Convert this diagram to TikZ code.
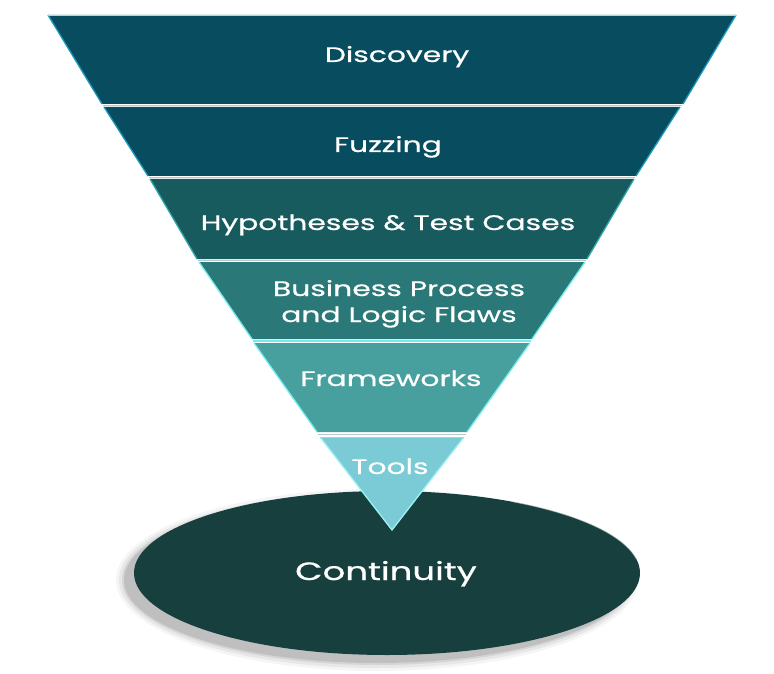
\documentclass[tikz,border=0pt]{standalone}
\usepackage{fontspec}
\usetikzlibrary{shapes.geometric}
\setmainfont[FakeStretch=1.42,FakeBold=0.6]{Poppins}
\definecolor{cA}{HTML}{084D5F}
\definecolor{cC}{HTML}{185B5F}
\definecolor{cD}{HTML}{2A7877}
\definecolor{cE}{HTML}{48A09E}
\definecolor{cF}{HTML}{7ACBD5}
\definecolor{cEll}{HTML}{163F3E}
\definecolor{edgeBlue}{HTML}{1B9AC0}
\definecolor{edgeTeal}{HTML}{2FA6A8}
\definecolor{edgeCyan}{HTML}{72ECEC}
\definecolor{gapLine}{HTML}{B9C6C9}
\begin{document}
\begin{tikzpicture}[x=1pt,y=-1pt,
  label/.style={text=white,font=\fontsize{21}{24.5}\selectfont,anchor=base,inner sep=0pt},
  biglabel/.style={text=white,font=\fontsize{25}{30}\selectfont,anchor=base,inner sep=0pt},
  sep/.style={draw=gapLine,line width=1.3pt}]
\useasboundingbox (0,0) rectangle (774,674);
% ellipse shadow
\foreach \r/\o in {10/0.04,7/0.06,4/0.08,2/0.10}{
  \fill[black,opacity=\o] (377,580) ellipse ({251+\r} and {81+\r});
}
\node[ellipse,fill=cEll,draw=none,minimum width=506pt,minimum height=164pt,inner sep=0pt] (ell) at (387,573) {};
\draw[white!70!cEll,line width=0.8pt,opacity=0.6] (387,573) ++(-10:253 and 82) arc (-10:-60:253 and 82);
% bands
\fill[cA] (48,15) -- (736,15) -- (683,104) -- (102,104) -- cycle;
\draw[edgeBlue,line width=1.3pt] (48,15) -- (102,104);
\draw[edgeBlue,line width=1.3pt] (736,15) -- (683,104);
\draw[gray!40,line width=0.8pt] (48,15) -- (736,15);
\fill[cA] (104,107) -- (680,107) -- (636,176) -- (148,176) -- cycle;
\draw[edgeBlue,line width=1.3pt] (104,107) -- (148,176);
\draw[edgeBlue,line width=1.3pt] (680,107) -- (636,176);
\draw[sep] (103,105.5) -- (682,105.5);
\fill[cC] (150,179) -- (634,179) -- (587,259) -- (197,259) -- cycle;
\draw[edgeTeal,line width=1.3pt] (150,179) -- (197,259);
\draw[edgeTeal,line width=1.3pt] (634,179) -- (587,259);
\draw[sep] (149,177.5) -- (635,177.5);
\fill[cD] (199,262) -- (585,262) -- (532,339) -- (252,339) -- cycle;
\draw[edgeCyan,line width=1.3pt] (199,262) -- (252,339);
\draw[edgeCyan,line width=1.3pt] (585,262) -- (532,339);
\draw[sep] (198,260.5) -- (586,260.5);
\fill[cE] (254,343) -- (530,343) -- (467,432) -- (317,432) -- cycle;
\draw[edgeCyan,line width=1.3pt] (254,343) -- (317,432);
\draw[edgeCyan,line width=1.3pt] (530,343) -- (467,432);
\draw[edgeCyan,line width=1.2pt] (253,341) -- (531,341);
\fill[cF] (320,437) -- (464,437) -- (392,530) -- cycle;
\draw[edgeCyan!70!white,line width=1.3pt] (320,437) -- (392,530) -- (464,437);
\draw[gapLine,line width=1.0pt] (318,434) -- (466,434);
\draw[edgeCyan,line width=1.3pt] (320,437.5) -- (464,437.5);
% labels
\node[label] (discovery) at (397,62) {Discovery};
\node[label] (fuzzing) at (388,152) {Fuzzing};
\node[label] (hyp) at (388,230) {Hypotheses \& Test Cases};
\node[label] (bp1) at (399,296) {Business Process};
\node[label] (bp2) at (399,322) {and Logic Flaws};
\node[label] (fw) at (391,386) {Frameworks};
\node[label] (tools) at (390,474) {Tools};
\node[biglabel] (cont) at (386,580) {Continuity};
\end{tikzpicture}
\end{document}
